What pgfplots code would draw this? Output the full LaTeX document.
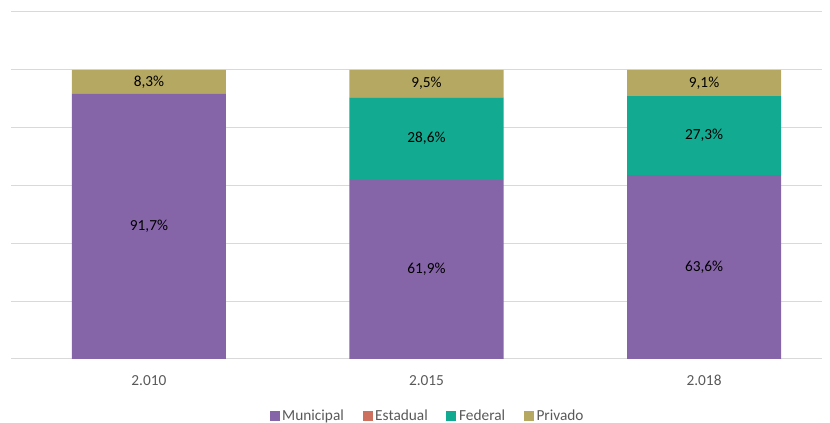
\documentclass[border=0pt]{standalone}
\usepackage{pgfplots}
\pgfplotsset{compat=1.18}
\usepackage{fontspec}
\setmainfont{Carlito}
\definecolor{muni}{RGB}{134,100,168}
\definecolor{esta}{RGB}{205,112,96}
\definecolor{fede}{RGB}{18,170,145}
\definecolor{priv}{RGB}{181,168,98}
\definecolor{gridc}{RGB}{217,217,217}
\definecolor{txt}{RGB}{89,89,89}
\begin{document}
\begin{tikzpicture}
\useasboundingbox (0,0) rectangle (622.5pt,317.25pt);
\pgfplotsset{base/.style={
  scale only axis, width=608.25pt, height=260.25pt,
  at={(8.25pt,48pt)}, anchor=south west,
  xmin=-0.497, xmax=2.425, ymin=0, ymax=120,
}}
\begin{axis}[base, ybar stacked, bar width=115.5pt,
  axis line style={draw=none}, major tick style={draw=none},
  ytick={0,20,...,120}, yticklabel=\empty, ymajorgrids,
  grid style={gridc, line width=0.75pt},
  xtick={0,1,2}, xticklabels={2.010,2.015,2.018},
  xticklabel style={anchor=base, yshift=-20.25pt, font=\fontsize{11.5}{13}\selectfont, text=txt},
  legend columns=4,
  legend style={draw=none, fill=none, at={(0.514,-0.164)}, anchor=center,
    font=\fontsize{11.5}{13}\selectfont, text=txt,
    /tikz/every even column/.append style={column sep=12pt}},
  legend image code/.code={\fill[#1] (0pt,-3.75pt) rectangle (7.5pt,3.75pt);},
]
\addplot[fill=muni, draw=none] coordinates {(0,91.7) (1,61.9) (2,63.6)};
\addlegendentry{Municipal}
\addplot[fill=esta, draw=none] coordinates {(0,0) (1,0) (2,0)};
\addlegendentry{Estadual}
\addplot[fill=fede, draw=none] coordinates {(0,0) (1,28.6) (2,27.3)};
\addlegendentry{Federal}
\addplot[fill=priv, draw=none] coordinates {(0,8.3) (1,9.5) (2,9.1)};
\addlegendentry{Privado}
\end{axis}
\begin{axis}[base, hide axis,
  nodes near coords, point meta=explicit symbolic,
  every node near coord/.append style={anchor=center, font=\fontsize{11.5}{13}\selectfont, text=black}]
\addplot[draw=none, mark=none] table[meta=lab] {
x y lab
0 45.85 {91,7\%}
0 95.85 {8,3\%}
1 30.95 {61,9\%}
1 76.20 {28,6\%}
1 95.25 {9,5\%}
2 31.80 {63,6\%}
2 77.25 {27,3\%}
2 95.45 {9,1\%}
};
\end{axis}
\end{tikzpicture}
\end{document}
